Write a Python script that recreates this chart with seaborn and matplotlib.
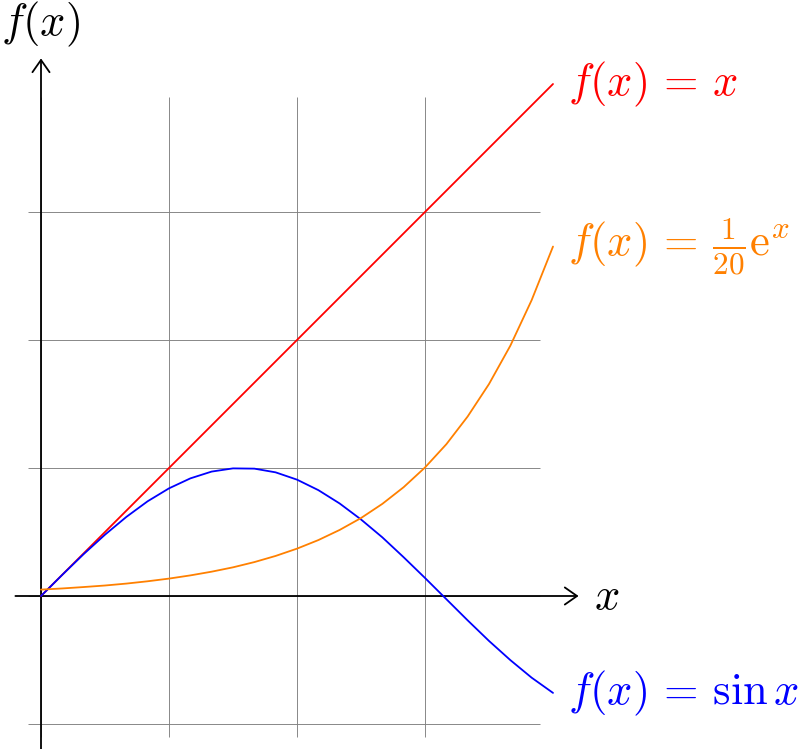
import matplotlib
matplotlib.use("Agg")
import matplotlib.pyplot as plt
import seaborn as sns
import pandas as pd

# sample points (25 samples over 0..4)
x_vals = [0.0, 0.167, 0.333, 0.5, 0.667, 0.833, 1.0, 1.167, 1.333, 1.5, 1.667, 1.833,
          2.0, 2.167, 2.333, 2.5, 2.667, 2.833, 3.0, 3.167, 3.333, 3.5, 3.667, 3.833, 4.0]
line_vals = [0.0, 0.167, 0.333, 0.5, 0.667, 0.833, 1.0, 1.167, 1.333, 1.5, 1.667, 1.833,
             2.0, 2.167, 2.333, 2.5, 2.667, 2.833, 3.0, 3.167, 3.333, 3.5, 3.667, 3.833, 4.0]
sin_vals = [0.0, 0.166, 0.327, 0.479, 0.618, 0.740, 0.841, 0.919, 0.972, 0.997, 0.995, 0.966,
            0.909, 0.827, 0.723, 0.598, 0.458, 0.303, 0.141, -0.025, -0.190, -0.351, -0.501, -0.638, -0.757]
exp_vals = [0.050, 0.059, 0.070, 0.082, 0.097, 0.115, 0.136, 0.161, 0.190, 0.224, 0.265, 0.313,
            0.370, 0.437, 0.516, 0.609, 0.720, 0.850, 1.004, 1.186, 1.402, 1.656, 1.956, 2.311, 2.730]

labels = [r"$f(x) \,=\, x$", r"$f(x) \,=\, \sin x$", r"$f(x) \,=\, \frac{1}{20}\mathrm{e}^x$"]
colors = ["#ff0000", "#0000ff", "#ff8000"]

grid_x = [0, 1, 2, 3]
grid_y = [-1, 0, 1, 2, 3]

sns.set_style("white")
plt.rcParams["mathtext.fontset"] = "cm"
plt.rcParams["font.family"] = ["DejaVu Serif"]
plt.rcParams["text.color"] = "black"

fig = plt.figure(figsize=(8, 7.49), dpi=100)
ax = fig.add_axes([0, 0, 1, 1])
ax.set_xlim(-41 / 128, 759 / 128)
ax.set_ylim(-153 / 128, 596 / 128)
ax.axis("off")

# thin gray grid, from -0.1 to 3.9
ax.vlines(grid_x, -1.1, 3.9, color="#808080", lw=0.65, zorder=1)
ax.hlines(grid_y, -0.1, 3.9, color="#808080", lw=0.65, zorder=1)

# axes with arrows
arrow = dict(arrowstyle="->,head_length=0.4,head_width=0.28", lw=1.3, color="black",
             shrinkA=0, shrinkB=0, mutation_scale=22)
ax.annotate("", xy=(4.2, 0), xytext=(-0.2, 0), arrowprops=arrow, zorder=2)
ax.annotate("", xy=(0, 4.2), xytext=(0, -1.2), arrowprops=arrow, zorder=2)
ax.annotate(r"$x$", xy=(4.2, 0), xytext=(11, 0), textcoords="offset points",
            ha="left", va="center", fontsize=32, color="black")
ax.annotate(r"$f(x)$", xy=(0, 4.2), xytext=(0, 7), textcoords="offset points",
            ha="center", va="bottom", fontsize=32, color="black")

df = pd.DataFrame({"x": x_vals, "line": line_vals, "sin": sin_vals, "exp": exp_vals})
for col, lab, c in zip(["line", "sin", "exp"], labels, colors):
    sns.lineplot(data=df, x="x", y=col, color=c, lw=1.3, ax=ax, sort=False, zorder=3)
    ax.annotate(lab, xy=(df["x"].iloc[-1], df[col].iloc[-1]), xytext=(11, 0),
                textcoords="offset points", ha="left", va="center", color=c, fontsize=32)

ax.set_xlim(-41 / 128, 759 / 128)
ax.set_ylim(-153 / 128, 596 / 128)
fig.savefig("out.png", dpi=100)
